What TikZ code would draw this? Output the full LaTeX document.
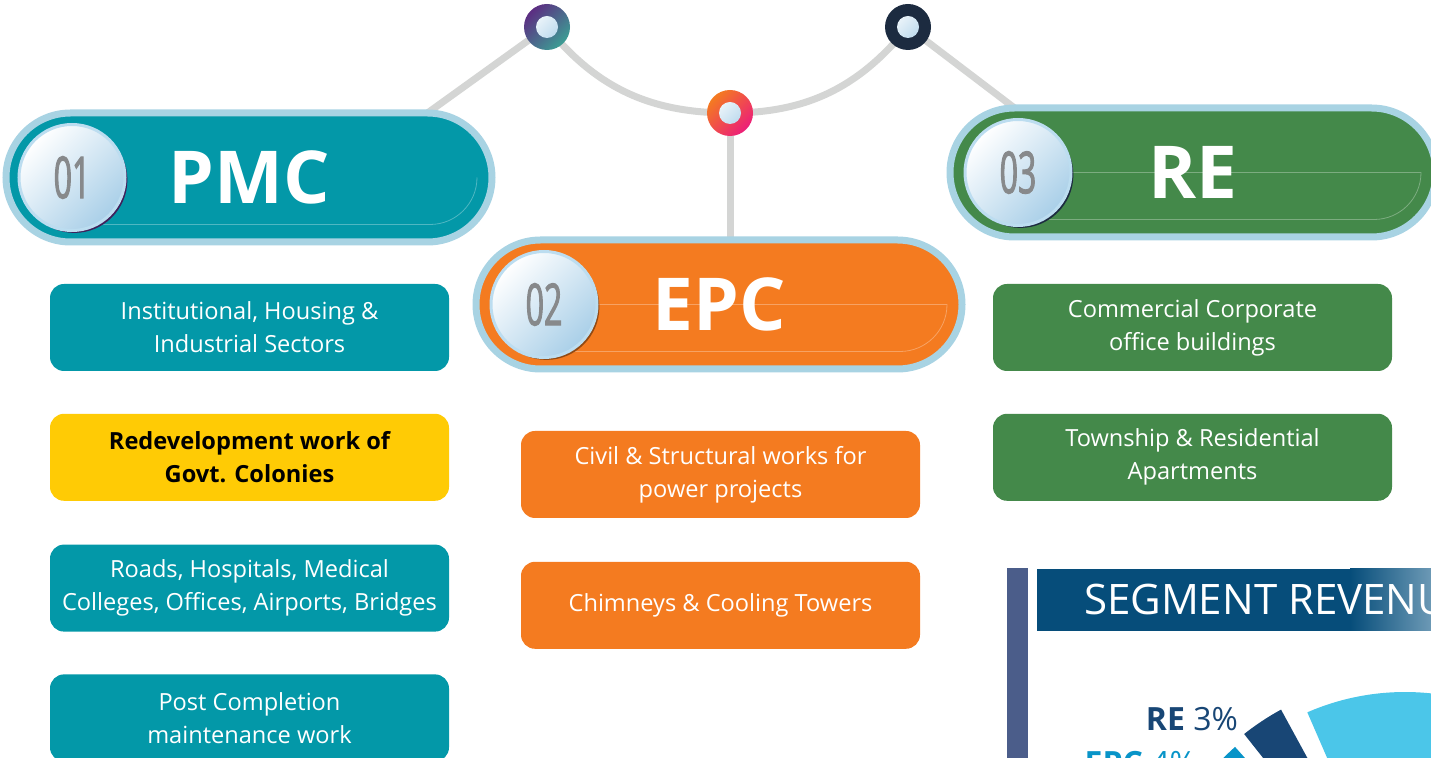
\documentclass[tikz,border=0pt]{standalone}
\usepackage{fontspec}
\setmainfont{Open Sans}
\newfontfamily\digitfont[FakeStretch=0.55,FakeBold=1.6]{Open Sans}
\usetikzlibrary{positioning,shapes.misc,shadows,backgrounds}
\definecolor{pmcteal}{HTML}{0398A8}
\definecolor{epcorange}{HTML}{F47B20}
\definecolor{regreen}{HTML}{44894A}
\definecolor{govtyellow}{HTML}{FFCB05}
\definecolor{rimblue}{HTML}{A8D3E3}
\definecolor{wiregrey}{HTML}{D4D5D4}
\definecolor{discblue}{HTML}{A9CFE8}
\definecolor{discrim}{HTML}{BCDDF0}
\definecolor{digitgrey}{HTML}{87898B}
\definecolor{hubpurple}{HTML}{5C2D82}
\definecolor{hubteal}{HTML}{3C9E94}
\definecolor{hubpink}{HTML}{EC1E79}
\definecolor{hubnavy}{HTML}{1C2B40}
\definecolor{hdrblue}{HTML}{064D7A}
\definecolor{hdrfade}{HTML}{6C99B5}
\definecolor{barslate}{HTML}{4B5D8A}
\definecolor{piesky}{HTML}{4BC6E9}
\definecolor{pienavy}{HTML}{184675}
\definecolor{piemid}{HTML}{0894C8}

\begin{document}
\begin{tikzpicture}[x=0.5pt,y=0.5pt]
  \tikzstyle{pill}=[rounded rectangle, draw=rimblue, line width=3.5pt, minimum width=243pt, minimum height=64.5pt, inner sep=0pt, outer sep=0pt, text=white, font=\fontsize{36.5}{40}\selectfont\bfseries]
  \tikzstyle{card}=[rectangle, rounded corners=7pt, minimum width=199.5pt, minimum height=43.5pt, align=center, text=white, font=\fontsize{11.8}{16.5}\selectfont]
  \tikzstyle{hub}=[circle, minimum size=23pt, inner sep=0pt, path picture={\shade[top color=white, bottom color=discblue, shading angle=45] (path picture bounding box.center) circle (5.5pt);}]
  \tikzstyle{wire}=[draw=wiregrey, line width=3.5pt]
  \tikzstyle{gloss}=[draw=white, draw opacity=0.3, line width=0.4pt]
  \tikzset{disc/.style={circle, minimum size=53pt, inner sep=0pt, draw=discrim, line width=1.5pt, top color=white, bottom color=discblue, shading angle=45, drop shadow={shadow xshift=1.2pt, shadow yshift=-1.2pt, fill=#1, opacity=1}, text=digitgrey, font=\digitfont\fontsize{29}{29}\selectfont}}

  \useasboundingbox (0,0) rectangle (1431,-758);
  \clip (0,0) rectangle (1431,-758);

  \node[hub, top color=hubpurple, bottom color=hubteal, shading angle=45] (j1) at (547,-27) {};
  \node[hub, top color=epcorange, bottom color=hubpink, shading angle=45] (j2) at (730,-113) {};
  \node[hub, fill=hubnavy] (j3) at (908,-27) {};

  \node[pill, fill=pmcteal] (pmc) at (249,-177.5) {PMC};
  \draw[gloss] ([xshift=-7.5pt]pmc.east) arc[start angle=0, end angle=-90, radius=23.5pt] -- ([shift={(40pt,-23.5pt)}]pmc.west);
  \node[disc=hubpurple!70!black] (n1) at ([xshift=33pt]pmc.west) {01};

  \node[pill, fill=epcorange] (epc) at (719,-304.5) {EPC};
  \draw[gloss] ([xshift=50pt]epc.west) -- ([xshift=-7.5pt]epc.east) arc[start angle=0, end angle=-90, radius=23.5pt] -- ([shift={(40pt,-23.5pt)}]epc.west);
  \node[disc=epcorange!60!black] (n2) at ([xshift=34pt]epc.west) {02};

  \node[pill, fill=regreen] (re) at (1193,-172.5) {RE};
  \draw[gloss] ([xshift=50pt]re.west) -- ([xshift=-7.5pt]re.east) arc[start angle=0, end angle=-90, radius=23.5pt] -- ([shift={(40pt,-23.5pt)}]re.west);
  \node[disc=hubnavy] (n3) at ([xshift=34pt]re.west) {03};

  \begin{pgfonlayer}{background}
    \draw[wire] (pmc.north east) -- (j1.center) to[out=-51, in=180] (j2.center) to[out=0, in=-129] (j3.center) -- (re.north west);
    \draw[wire] (j2.center) -- (j2 |- epc.north);
  \end{pgfonlayer}

  \node[card, fill=pmcteal] (p1) at (249.5,-327.5) {Institutional, Housing \&\\Industrial Sectors};
  \node[card, fill=govtyellow, text=black, font=\fontsize{11.8}{16.5}\selectfont\bfseries] (p2) [below=21pt of p1] {Redevelopment work of\\Govt. Colonies};
  \node[card, fill=pmcteal] (p3) [below=21.5pt of p2] {Roads, Hospitals, Medical\\Colleges, Offices, Airports, Bridges};
  \node[card, fill=pmcteal] (p4) [below=21pt of p3] {Post Completion\\maintenance work};

  \node[card, fill=epcorange] (e1) at (720.5,-474.5) {Civil \& Structural works for\\power projects};
  \node[card, fill=epcorange] (e2) [below=21.5pt of e1] {Chimneys \& Cooling Towers};

  \node[card, fill=regreen] (r1) at (1192.5,-327.5) {Commercial Corporate\\office buildings};
  \node[card, fill=regreen] (r2) [below=21pt of r1] {Township \& Residential\\Apartments};

  \fill[barslate] (1007,-568) rectangle (1028,-758);
  \fill[hdrblue] (1037,-569) rectangle (1352,-631);
  \shade[left color=hdrblue, right color=hdrfade] (1350,-569) rectangle (1431,-631);
  \node[anchor=west, text=white, font=\fontsize{21}{21}\selectfont] (seghdr) at (1077,-600) {SEGMENT REVENU};

  \fill[piesky] (1405,-937) -- ++(113.5:245) arc[start angle=113.5, end angle=20, radius=245] -- cycle;
  \fill[pienavy] (1405,-937) -- ++(118.6:259) arc[start angle=118.6, end angle=128.4, radius=259] -- cycle;
  \fill[piemid] (1405,-937) -- ++(131.8:255) arc[start angle=131.8, end angle=146.2, radius=255] -- cycle;
  \node[anchor=base east, text=pienavy, font=\fontsize{16}{16}\selectfont] (relab) at (1245,-731) {\textbf{RE} 3\%};
  \node[anchor=base east, text=piemid, font=\fontsize{16}{16}\selectfont] (epclab) at (1203,-775) {\textbf{EPC} 4\%};
\end{tikzpicture}
\end{document}
